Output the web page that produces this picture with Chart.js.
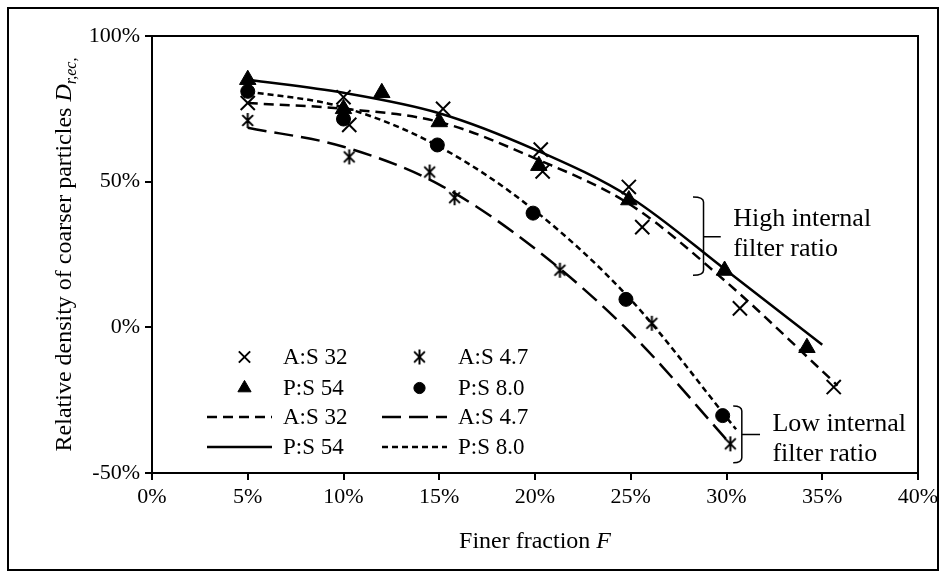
<!DOCTYPE html>
<html><head><meta charset="utf-8">
<script src="https://cdn.jsdelivr.net/npm/chart.js@4.4.1/dist/chart.umd.min.js"></script>
<style>html,body{margin:0;padding:0;background:#fff}#wrap{width:952px;height:579px}</style>
</head><body><div id="wrap"><canvas id="c" width="952" height="579"></canvas></div>
<script>
// ---- tick labels ----
const xTickValues = [0, 5, 10, 15, 20, 25, 30, 35, 40];
const yTickValues = [-50, 0, 50, 100];
const seriesNames = ['A:S 32', 'A:S 4.7', 'P:S 54', 'P:S 8.0'];

// ---- measured points (finer fraction F %, relative density %) ----
const as32F = [5, 10, 10.3, 15.2, 20.3, 20.4, 24.9, 25.6, 30.7, 35.6];
const as32D = [77, 79, 69.5, 75, 61, 53.5, 48.2, 34.4, 6.5, -20.5];
const as47F = [5, 10.3, 14.5, 15.8, 21.3, 26.1, 30.2];
const as47D = [71, 58.5, 53.3, 44.5, 19.6, 1.4, -40];
const ps54F = [5, 10, 12, 15, 20.2, 24.9, 29.9, 34.2];
const ps54D = [85, 75, 80.5, 70.5, 55.5, 43.7, 19.5, -7];
const ps80F = [5, 10, 14.9, 19.9, 24.75, 29.8];
const ps80D = [81, 71.5, 62.6, 39.2, 9.6, -30.3];

// ---- fitted trend curves ----
const as32FitF = [5, 10, 15, 20, 25, 30, 35, 35.8];
const as32FitD = [77, 75, 70.5, 58, 42, 15.5, -15, -20];
const as47FitF = [5, 10, 15, 20, 25, 30.2];
const as47FitD = [68.5, 62, 49, 27, -2, -40];
const ps54FitF = [5, 10, 15, 20, 25, 30, 35];
const ps54FitD = [85, 80.5, 73.5, 61, 44.5, 19.5, -6];
const ps80FitF = [5, 10, 15, 20, 25, 30.5];
const ps80FitD = [81, 75.5, 62, 40, 9.5, -35];

const FONT = 'Liberation Serif';
const pts = (xs, ys) => xs.map((x, i) => ({x: x, y: ys[i]}));

// Excel-style star marker: x with a vertical bar
function makeStar(size, lw) {
  const c = document.createElement('canvas');
  c.width = size; c.height = size;
  const g = c.getContext('2d');
  g.strokeStyle = '#000'; g.lineWidth = lw; g.lineCap = 'butt';
  const m = size / 2, r = size / 2 - 1;
  const d = r * 0.72;
  g.beginPath();
  g.moveTo(m - d, m - d); g.lineTo(m + d, m + d);
  g.moveTo(m + d, m - d); g.lineTo(m - d, m + d);
  g.moveTo(m, m - r); g.lineTo(m, m + r);
  g.stroke();
  return c;
}
const starImg = makeStar(17, 2);

const lineW = 2.5;
const markerSets = [
  {label: seriesNames[0], data: pts(as32F, as32D), pointStyle: 'crossRot', pointRadius: 10, pointBorderWidth: 2, borderColor: '#000', backgroundColor: '#000', showLine: false, order: 0},
  {label: seriesNames[1], data: pts(as47F, as47D), pointStyle: starImg, pointRadius: 8, pointBorderWidth: 2, borderColor: '#000', backgroundColor: '#000', showLine: false, order: 0},
  {label: seriesNames[2], data: pts(ps54F, ps54D), pointStyle: 'triangle', pointRadius: 9.5, pointBorderWidth: 1, borderColor: '#000', backgroundColor: '#000', showLine: false, order: 0},
  {label: seriesNames[3], data: pts(ps80F, ps80D), pointStyle: 'circle', pointRadius: 7, pointBorderWidth: 1, borderColor: '#000', backgroundColor: '#000', showLine: false, order: 0}
];
const lineSets = [
  {label: seriesNames[0] + ' fit', data: pts(as32FitF, as32FitD), borderDash: [10, 6]},
  {label: seriesNames[1] + ' fit', data: pts(as47FitF, as47FitD), borderDash: [19, 8]},
  {label: seriesNames[2] + ' fit', data: pts(ps54FitF, ps54FitD), borderDash: []},
  {label: seriesNames[3] + ' fit', data: pts(ps80FitF, ps80FitD), borderDash: [6, 4]}
].map(d => Object.assign(d, {showLine: true, pointRadius: 0, borderColor: '#000', borderWidth: lineW, cubicInterpolationMode: 'monotone', fill: false, order: 1}));

const PLOT = {left: 152, top: 36, right: 918, bottom: 473};

const decor = {
  id: 'decor',
  beforeDraw(chart) {
    const ctx = chart.ctx;
    ctx.save();
    ctx.fillStyle = '#fff';
    ctx.fillRect(0, 0, chart.width, chart.height);
    ctx.strokeStyle = '#000'; ctx.lineWidth = 2;
    ctx.strokeRect(8, 8, 930, 562);
    ctx.restore();
  },
  afterDraw(chart) {
    const ctx = chart.ctx, a = chart.chartArea;
    const xs = chart.scales.x, ys = chart.scales.y;
    const X = v => xs.getPixelForValue(v), Y = v => ys.getPixelForValue(v);
    ctx.save();
    // top and right frame of plot area
    ctx.strokeStyle = '#000'; ctx.lineWidth = 2;
    ctx.beginPath();
    ctx.moveTo(a.left, a.top); ctx.lineTo(a.right, a.top); ctx.lineTo(a.right, a.bottom);
    ctx.stroke();

    // legend
    const rows = [357, 388, 417, 447];
    const cols = [{l: 207, r: 272, t: 283}, {l: 382, r: 447, t: 458}];
    const items = [
      [0, 'm', 0, 0], [1, 'm', 1, 0],
      [2, 'm', 0, 1], [3, 'm', 1, 1],
      [0, 'l', 0, 2], [1, 'l', 1, 2],
      [2, 'l', 0, 3], [3, 'l', 1, 3]
    ];
    ctx.font = '23px "' + FONT + '"';
    ctx.textBaseline = 'middle'; ctx.textAlign = 'left';
    items.forEach(([si, kind, ci, ri]) => {
      const c = cols[ci], y = rows[ri];
      ctx.fillStyle = '#000'; ctx.strokeStyle = '#000';
      if (kind === 'm') {
        const m = markerSets[si];
        ctx.lineWidth = m.pointBorderWidth;
        Chart.helpers.drawPoint(ctx, {pointStyle: m.pointStyle, radius: m.pointRadius * 0.8, rotation: 0, borderWidth: m.pointBorderWidth}, (c.l + c.r) / 2 + 5, y);
      } else {
        const l = lineSets[si];
        ctx.lineWidth = lineW;
        ctx.setLineDash(l.borderDash);
        ctx.beginPath(); ctx.moveTo(c.l, y); ctx.lineTo(c.r, y); ctx.stroke();
        ctx.setLineDash([]);
      }
      ctx.fillText(seriesNames[si], c.t, y + 1);
    });

    // braces and annotation text
    function brace(xv, hookv, tipv, topv, midv, botv) {
      const x = X(xv), hx = X(hookv), tx = X(tipv), yt = Y(topv), ym = Y(midv), yb = Y(botv);
      const r = 5;
      ctx.lineWidth = 1.5; ctx.strokeStyle = '#000';
      ctx.beginPath();
      ctx.moveTo(hx, yt);
      ctx.quadraticCurveTo(x, yt, x, yt + r);
      ctx.lineTo(x, yb - r);
      ctx.quadraticCurveTo(x, yb, hx, yb);
      ctx.moveTo(x, ym); ctx.lineTo(tx, ym);
      ctx.stroke();
    }
    brace(28.8, 28.25, 29.7, 44.7, 31.1, 17.9);
    brace(30.8, 30.35, 31.75, -27, -36.8, -46.5);
    ctx.font = '26px "' + FONT + '"';
    ctx.fillStyle = '#000'; ctx.textAlign = 'left'; ctx.textBaseline = 'middle';
    ctx.fillText('High internal', X(30.35), Y(37.2));
    ctx.fillText('filter ratio', X(30.35), Y(26.9));
    ctx.fillText('Low internal', X(32.4), Y(-33.4));
    ctx.fillText('filter ratio', X(32.4), Y(-43.4));

    // axis titles
    ctx.textBaseline = 'alphabetic';
    const xt1 = 'Finer fraction ', xt2 = 'F';
    ctx.font = '24px "' + FONT + '"';
    const w1 = ctx.measureText(xt1).width;
    ctx.font = 'italic 24px "' + FONT + '"';
    const w2 = ctx.measureText(xt2).width;
    let sx = (a.left + a.right) / 2 - (w1 + w2) / 2;
    ctx.font = '24px "' + FONT + '"';
    ctx.fillText(xt1, sx, 548);
    ctx.font = 'italic 24px "' + FONT + '"';
    ctx.fillText(xt2, sx + w1, 548);

    // y title
    ctx.translate(71, (a.top + a.bottom) / 2);
    ctx.rotate(-Math.PI / 2);
    const p1 = 'Relative density of coarser particles ', p2 = 'D', p3 = 'r,ec,';
    ctx.font = '24px "' + FONT + '"'; const v1 = ctx.measureText(p1).width;
    ctx.font = 'italic 24px "' + FONT + '"'; const v2 = ctx.measureText(p2).width;
    ctx.font = 'italic 16px "' + FONT + '"'; const v3 = ctx.measureText(p3).width;
    let s = -(v1 + v2 + v3) / 2;
    ctx.font = '24px "' + FONT + '"'; ctx.fillText(p1, s, 0);
    ctx.font = 'italic 24px "' + FONT + '"'; ctx.fillText(p2, s + v1, 0);
    ctx.font = 'italic 16px "' + FONT + '"'; ctx.fillText(p3, s + v1 + v2, 5);
    ctx.restore();
  }
};

new Chart(document.getElementById('c'), {
  type: 'scatter',
  data: {datasets: markerSets.concat(lineSets)},
  options: {
    responsive: false, animation: false, devicePixelRatio: 1,
    layout: {padding: {left: 0, top: PLOT.top, right: 952 - PLOT.right, bottom: 0}},
    plugins: {legend: {display: false}, tooltip: {enabled: false}},
    scales: {
      x: {
        type: 'linear', min: 0, max: 40,
        afterBuildTicks: s => { s.ticks = xTickValues.map(v => ({value: v})); },
        afterFit: s => { s.height = 579 - PLOT.bottom; },
        grid: {drawOnChartArea: false, drawTicks: true, tickLength: 7, color: '#000', lineWidth: 2},
        border: {display: true, color: '#000', width: 2},
        ticks: {color: '#000', font: {family: FONT, size: 22}, padding: 4, maxRotation: 0, callback: v => v + '%'}
      },
      y: {
        type: 'linear', min: -50, max: 100,
        afterBuildTicks: s => { s.ticks = yTickValues.map(v => ({value: v})); },
        afterFit: s => { s.width = PLOT.left; },
        grid: {drawOnChartArea: false, drawTicks: true, tickLength: 7, color: '#000', lineWidth: 2},
        border: {display: true, color: '#000', width: 2},
        ticks: {color: '#000', font: {family: FONT, size: 22}, padding: 5, callback: v => v + '%'}
      }
    }
  },
  plugins: [decor]
});
</script>
</body></html>
